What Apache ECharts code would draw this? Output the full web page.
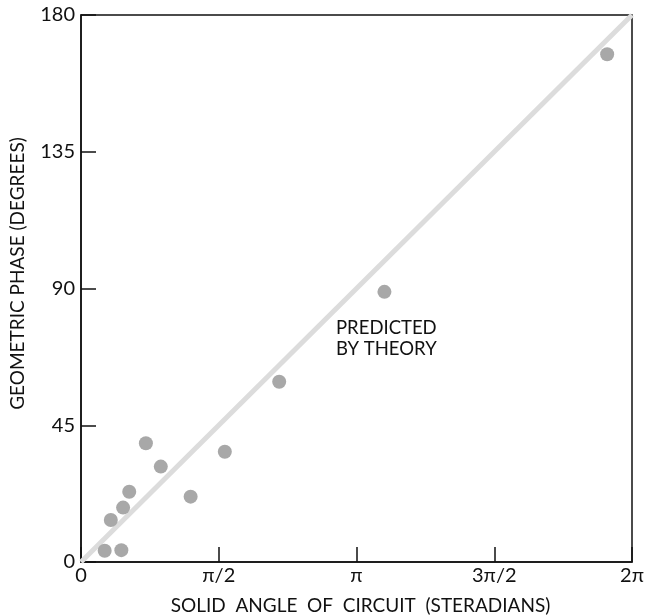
<!DOCTYPE html>
<html>
<head>
<meta charset="utf-8">
<script src="https://cdn.jsdelivr.net/npm/echarts@6/dist/echarts.min.js"></script>
<style>
  html, body {margin: 0; padding: 0; background: #fff;}
  #chart {width: 646px; height: 616px;}
</style>
</head>
<body>
<div id="chart"></div>
<script>
const FONT = "Lato";
const HALF_PI = Math.PI / 2;

// measured points: solid angle (steradians) vs geometric phase (degrees)
const solidAngle = [0.27, 0.46, 0.34, 0.48, 0.55, 0.74, 0.91, 1.25, 1.64, 2.26, 3.46, 6.00];
const phaseDeg = [3.7, 3.9, 13.8, 17.9, 23.1, 39.1, 31.4, 21.5, 36.3, 59.3, 88.9, 167.1];

// theory: phase = solid angle (converted to degrees)
const theoryX = [0, 2 * Math.PI];
const theoryY = [0, 180];

const xTickLabels = ["0", "π/2", "π", "3π/2", "2π"];
const yTicks = [0, 45, 90, 135, 180];

const chart = echarts.init(document.getElementById("chart"));

chart.setOption({
  animation: false,
  backgroundColor: "#fff",
  textStyle: {fontFamily: FONT},
  grid: {
    left: 81, right: 14, top: 15, bottom: 54,
    outerBoundsMode: "none",
    containLabel: false,
    show: true, borderColor: "#111", borderWidth: 1.5,
  },
  xAxis: {
    type: "value",
    min: 0,
    max: 2 * Math.PI,
    interval: HALF_PI,
    name: "SOLID  ANGLE  OF  CIRCUIT  (STERADIANS)",
    nameLocation: "middle",
    nameGap: 34,
    nameTextStyle: {fontFamily: FONT, fontSize: 19, color: "#111", padding: [0, 0, 0, 8]},
    axisLine: {lineStyle: {color: "#111", width: 1.5}},
    axisTick: {inside: true, length: 15, lineStyle: {color: "#111", width: 1.5}},
    axisLabel: {
      fontFamily: FONT, fontSize: 20, color: "#111", margin: 4,
      formatter: v => xTickLabels[Math.round(v / HALF_PI)] ?? "",
    },
    splitLine: {show: false},
  },
  yAxis: {
    type: "value",
    min: yTicks[0],
    max: yTicks[yTicks.length - 1],
    interval: 45,
    name: "GEOMETRIC PHASE (DEGREES)",
    nameLocation: "middle",
    nameRotate: 90,
    nameGap: 54,
    nameTextStyle: {fontFamily: FONT, fontSize: 19, color: "#111", padding: [0, 0, 0, 30]},
    axisLine: {lineStyle: {color: "#111", width: 1.5}},
    axisTick: {inside: true, length: 15, lineStyle: {color: "#111", width: 1.5}},
    axisLabel: {fontFamily: FONT, fontSize: 20, color: "#111", margin: 6},
    splitLine: {show: false},
  },
  series: [
    {
      type: "line",
      data: theoryX.map((x, i) => [x, theoryY[i]]),
      symbol: "none",
      silent: true,
      lineStyle: {color: "#dcdcdc", width: 5},
      z: 1,
    },
    {
      type: "scatter",
      data: solidAngle.map((x, i) => [x, phaseDeg[i]]),
      symbolSize: 14,
      itemStyle: {color: "#a8a8a8", opacity: 1},
      z: 2,
    },
  ],
  graphic: [
    {
      type: "text",
      left: 336,
      top: 318,
      style: {
        text: "PREDICTED\nBY THEORY",
        font: `18.5px ${FONT}`,
        lineHeight: 21,
        fill: "#111",
      },
    },
  ],
});
</script>
</body>
</html>
